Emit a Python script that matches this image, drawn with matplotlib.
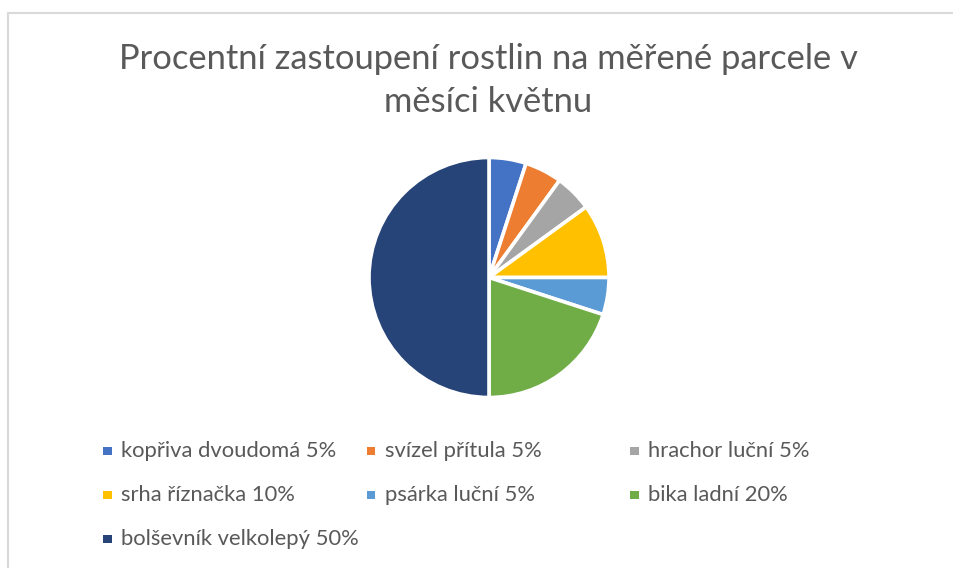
import matplotlib
matplotlib.use("Agg")
import matplotlib.pyplot as plt
from matplotlib.lines import Line2D
from matplotlib.patches import Rectangle

plt.rcParams['font.family'] = ['Lato', 'DejaVu Sans']

title_lines = ["Procentní zastoupení rostlin na měřené parcele v", "měsíci květnu"]
labels = ["kopřiva dvoudomá 5%", "svízel přítula 5%", "hrachor luční 5%",
          "srha říznačka 10%", "psárka luční 5%", "bika ladní 20%",
          "bolševník velkolepý 50%"]
values = [5, 5, 5, 10, 5, 20, 50]
colors = ["#4472C4", "#ED7D31", "#A5A5A5", "#FFC000", "#5B9BD5", "#70AD47", "#264478"]

W, H = 954, 568
fig = plt.figure(figsize=(W / 100, H / 100), dpi=100)

def fx(px):
    return px / W

def fy(py):
    return 1 - py / H

# chart border (top and left)
fig.add_artist(Line2D([fx(8), fx(954)], [fy(13), fy(13)], color="#d9d9d9", lw=1.5))
fig.add_artist(Line2D([fx(8.5), fx(8.5)], [fy(13), fy(568)], color="#d9d9d9", lw=1.5))

# title
fig.text(fx(488.5), fy(59), title_lines[0],
         ha="center", va="center", fontsize=24.8, color="#595959")
fig.text(fx(488.5), fy(102), title_lines[1],
         ha="center", va="center", fontsize=24.8, color="#595959")

# pie
cx, cy, r = 489, 277.5, 120
ax = fig.add_axes([fx(cx - r), fy(cy + r), 2 * r / W, 2 * r / H])
ax.pie(values, colors=colors, startangle=90, counterclock=False, radius=1,
       wedgeprops=dict(edgecolor="white", linewidth=2.6))
ax.set_xlim(-1.0, 1.0)
ax.set_ylim(-1.0, 1.0)
ax.set_aspect("equal")
ax.axis("off")

# legend (Excel-like manual layout)
pos = [(107.5, 451), (371, 451), (634.5, 451),
       (107.5, 495), (371, 495), (634.5, 495),
       (107.5, 539)]
for (px, py), lab, col in zip(pos, labels, colors):
    s = 8.5
    fig.add_artist(Rectangle((fx(px - s / 2), fy(py + s / 2)), s / W, s / H,
                             facecolor=col, edgecolor="none"))
    fig.text(fx(px + 14), fy(py), lab, ha="left", va="center",
             fontsize=15.8, color="#595959")

fig.savefig("out.png", dpi=100, facecolor="white")
